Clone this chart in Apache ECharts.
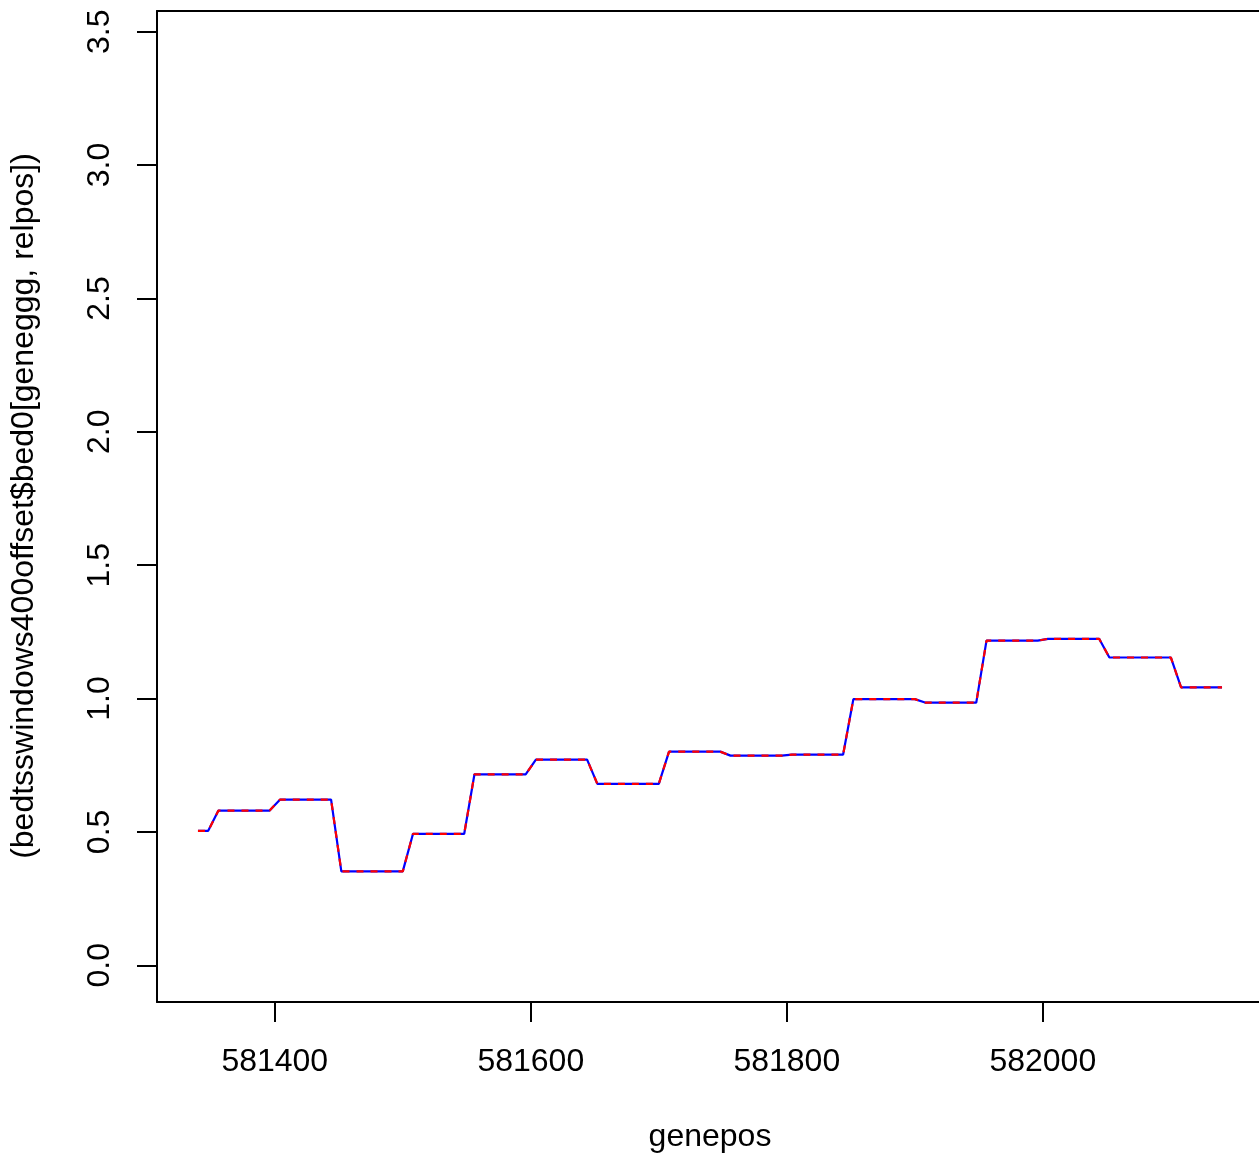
<!DOCTYPE html>
<html>
<head>
<meta charset="utf-8">
<script src="https://cdn.jsdelivr.net/npm/echarts@6/dist/echarts.min.js"></script>
<style>
html,body{margin:0;padding:0;background:#fff;}
#chart{width:1259px;height:1156px;}
</style>
</head>
<body>
<div id="chart"></div>
<script>
var genepos = [
581340,581348,581356,581364,581372,581380,581388,581396,581404,581412,
581420,581428,581436,581444,581452,581460,581468,581476,581484,581492,
581500,581508,581516,581524,581532,581540,581548,581556,581564,581572,
581580,581588,581596,581604,581612,581620,581628,581636,581644,581652,
581660,581668,581676,581684,581692,581700,581708,581716,581724,581732,
581740,581748,581756,581764,581772,581780,581788,581796,581804,581812,
581820,581828,581836,581844,581852,581860,581868,581876,581884,581892,
581900,581908,581916,581924,581932,581940,581948,581956,581964,581972,
581980,581988,581996,582004,582012,582020,582028,582036,582044,582052,
582060,582068,582076,582084,582092,582100,582108,582116,582124,582132,
582140
];
var signal = [
0.504,0.504,0.580,0.580,0.580,0.580,0.580,0.580,0.621,0.621,
0.621,0.621,0.621,0.621,0.352,0.352,0.352,0.352,0.352,0.352,
0.352,0.493,0.493,0.493,0.493,0.493,0.493,0.716,0.716,0.716,
0.716,0.716,0.716,0.771,0.771,0.771,0.771,0.771,0.771,0.680,
0.680,0.680,0.680,0.680,0.680,0.680,0.801,0.801,0.801,0.801,
0.801,0.801,0.786,0.786,0.786,0.786,0.786,0.786,0.790,0.790,
0.790,0.790,0.790,0.790,0.998,0.998,0.998,0.998,0.998,0.998,
0.998,0.985,0.985,0.985,0.985,0.985,0.985,1.217,1.217,1.217,
1.217,1.217,1.217,1.224,1.224,1.224,1.224,1.224,1.224,1.154,
1.154,1.154,1.154,1.154,1.154,1.154,1.042,1.042,1.042,1.042,
1.042
];
var xTicks = [581400, 581600, 581800, 582000];
var yTicks = [0, 0.5, 1.0, 1.5, 2.0, 2.5, 3.0, 3.5];
var xTitle = 'genepos';
var yTitle = '(bedtsswindows400offset$bed0[geneggg, relpos])';

var pts = genepos.map(function (x, i) { return [x, signal[i]]; });
var FONT = '"Liberation Sans", Arial, Helvetica, sans-serif';
var XMIN = 581308, XMAX = 582172;
var axLine = {show: true, onZero: false, lineStyle: {color: '#000', width: 2}};

var chart = echarts.init(document.getElementById('chart'), null, {renderer: 'canvas'});
chart.setOption({
  animation: false,
  backgroundColor: '#ffffff',
  grid: {
    left: 157, top: 11, width: 1106, height: 991,
    outerBoundsMode: 'none', containLabel: false, show: false
  },
  xAxis: [{
    type: 'value', min: XMIN, max: XMAX, position: 'bottom',
    splitLine: {show: false},
    axisLine: axLine,
    axisTick: {show: true, customValues: xTicks, length: 20, lineStyle: {color: '#000', width: 2}},
    axisLabel: {customValues: xTicks, margin: 44, fontSize: 32, color: '#000', fontFamily: FONT,
      formatter: function (v) { return String(v); }}
  }, {
    type: 'value', min: XMIN, max: XMAX, position: 'top',
    splitLine: {show: false}, axisLine: axLine,
    axisTick: {show: false}, axisLabel: {show: false}
  }],
  yAxis: {
    type: 'value', min: -0.1376, max: 3.5776,
    splitLine: {show: false},
    axisLine: axLine,
    axisTick: {show: true, customValues: yTicks, length: 20, lineStyle: {color: '#000', width: 2}},
    axisLabel: {customValues: yTicks, margin: 41, fontSize: 32, color: '#000', fontFamily: FONT, rotate: 90,
      formatter: function (v) { return v.toFixed(1); }}
  },
  graphic: [
    {type: 'text', x: 710, y: 1137, style: {text: xTitle, fontSize: 32, fontFamily: FONT, fill: '#000', align: 'center', verticalAlign: 'middle'}},
    {type: 'text', x: 24, y: 506, rotation: Math.PI / 2, style: {text: yTitle, fontSize: 32, fontFamily: FONT, fill: '#000', align: 'center', verticalAlign: 'middle'}}
  ],
  series: [
    {type: 'line', xAxisIndex: 0, data: pts, symbol: 'none', lineStyle: {color: '#0000ff', width: 2.2, type: 'solid'}, z: 2},
    {type: 'line', xAxisIndex: 0, data: pts, symbol: 'none', lineStyle: {color: '#ff0000', width: 2.2, type: [7, 7]}, z: 3}
  ]
});
</script>
</body>
</html>
